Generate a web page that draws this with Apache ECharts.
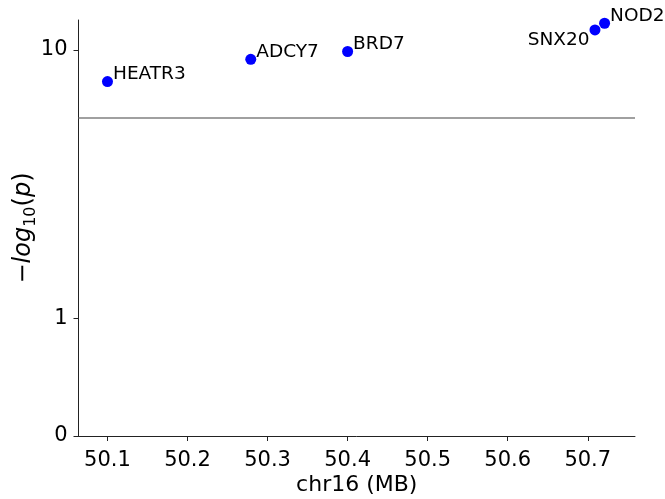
<!DOCTYPE html>
<html>
<head>
<meta charset="utf-8">
<script src="https://cdn.jsdelivr.net/npm/echarts@6/dist/echarts.min.js"></script>
<style>
  html, body { margin: 0; padding: 0; background: #fff; }
  #chart { width: 665px; height: 499px; }
</style>
</head>
<body>
<div id="chart"></div>
<script>
// Association signals on chr16 (positions in megabases)
const genes = ['HEATR3', 'ADCY7', 'BRD7', 'SNX20', 'NOD2'];
const positionsMb = [50.100, 50.279, 50.400, 50.709, 50.721];
const negLog10P = [7.96, 9.35, 9.89, 11.53, 12.09];
const significanceLine = 6;

// Axis ticks
const xTickValues = [50.1, 50.2, 50.3, 50.4, 50.5, 50.6, 50.7];
const yTickValues = [0, 1, 10];

// Shifted log scale for the y axis, so that 0 can still be shown
const SHIFT = 0.85;
const scaleY = v => Math.log10(v + SHIFT);
const yTicksScaled = yTickValues.map(scaleY);

const FONT = 'DejaVu Sans';

// Label placement per gene: most sit to the upper right of the dot, SNX20 to the lower left
const labelLeft = { SNX20: true };

const points = genes.map((g, i) => {
  const left = !!labelLeft[g];
  return {
    name: g,
    value: [positionsMb[i], scaleY(negLog10P[i])],
    label: {
      show: true,
      formatter: g,
      color: '#000',
      fontFamily: FONT,
      fontSize: 18.5,
      position: left ? [0, 15.5] : [11, -1.5],
      align: left ? 'right' : 'left',
      verticalAlign: 'middle'
    }
  };
});

const chart = echarts.init(document.getElementById('chart'), null, { renderer: 'canvas' });

chart.setOption({
  animation: false,
  backgroundColor: '#ffffff',
  grid: { left: 78.5, right: 30, top: 20, bottom: 63, containLabel: false, outerBoundsMode: 'none' },
  xAxis: {
    type: 'value',
    min: 50.0638,
    max: 50.759,
    name: 'chr16 (MB)',
    nameLocation: 'middle',
    nameGap: 38,
    nameMoveOverlap: false,
    nameTextStyle: { fontFamily: FONT, fontSize: 22, color: '#000' },
    axisLine: { show: true, onZero: false, lineStyle: { color: '#222', width: 1 } },
    axisTick: { show: true, inside: false, length: 5, customValues: xTickValues, lineStyle: { color: '#222' } },
    axisLabel: {
      customValues: xTickValues,
      margin: 14,
      fontFamily: FONT,
      fontSize: 21,
      color: '#000',
      formatter: v => v.toFixed(1)
    },
    splitLine: { show: false }
  },
  yAxis: {
    type: 'value',
    min: scaleY(0),
    max: scaleY(12.37),
    name: '{n|−}{i|log}{s|10}{n|(}{i|p}{n|)}',
    nameLocation: 'middle',
    nameRotate: 90,
    nameGap: 40,
    nameMoveOverlap: false,
    nameTextStyle: {
      fontFamily: FONT,
      color: '#000',
      rich: {
        n: { fontFamily: FONT, fontSize: 24, lineHeight: 30, color: '#000' },
        i: { fontFamily: FONT, fontSize: 24, lineHeight: 30, fontStyle: 'italic', color: '#000' },
        s: { fontFamily: FONT, fontSize: 16, lineHeight: 17, verticalAlign: 'bottom', color: '#000' }
      }
    },
    axisLine: { show: true, onZero: false, lineStyle: { color: '#222', width: 1 } },
    axisTick: { show: true, inside: false, length: 5, customValues: yTicksScaled, lineStyle: { color: '#222' } },
    axisLabel: {
      customValues: yTicksScaled,
      margin: 11,
      fontFamily: FONT,
      fontSize: 21,
      color: '#000',
      formatter: v => {
        const idx = yTicksScaled.findIndex(t => Math.abs(t - v) < 1e-9);
        return idx >= 0 ? String(yTickValues[idx]) : '';
      }
    },
    splitLine: { show: false }
  },
  series: [{
    type: 'scatter',
    symbol: 'circle',
    symbolSize: 11,
    itemStyle: { color: '#0000ff', opacity: 1 },
    data: points,
    markLine: {
      silent: true,
      symbol: 'none',
      label: { show: false },
      lineStyle: { color: '#808080', width: 1.5, type: 'solid', opacity: 1 },
      data: [{ yAxis: scaleY(significanceLine) }]
    }
  }]
});
</script>
</body>
</html>
